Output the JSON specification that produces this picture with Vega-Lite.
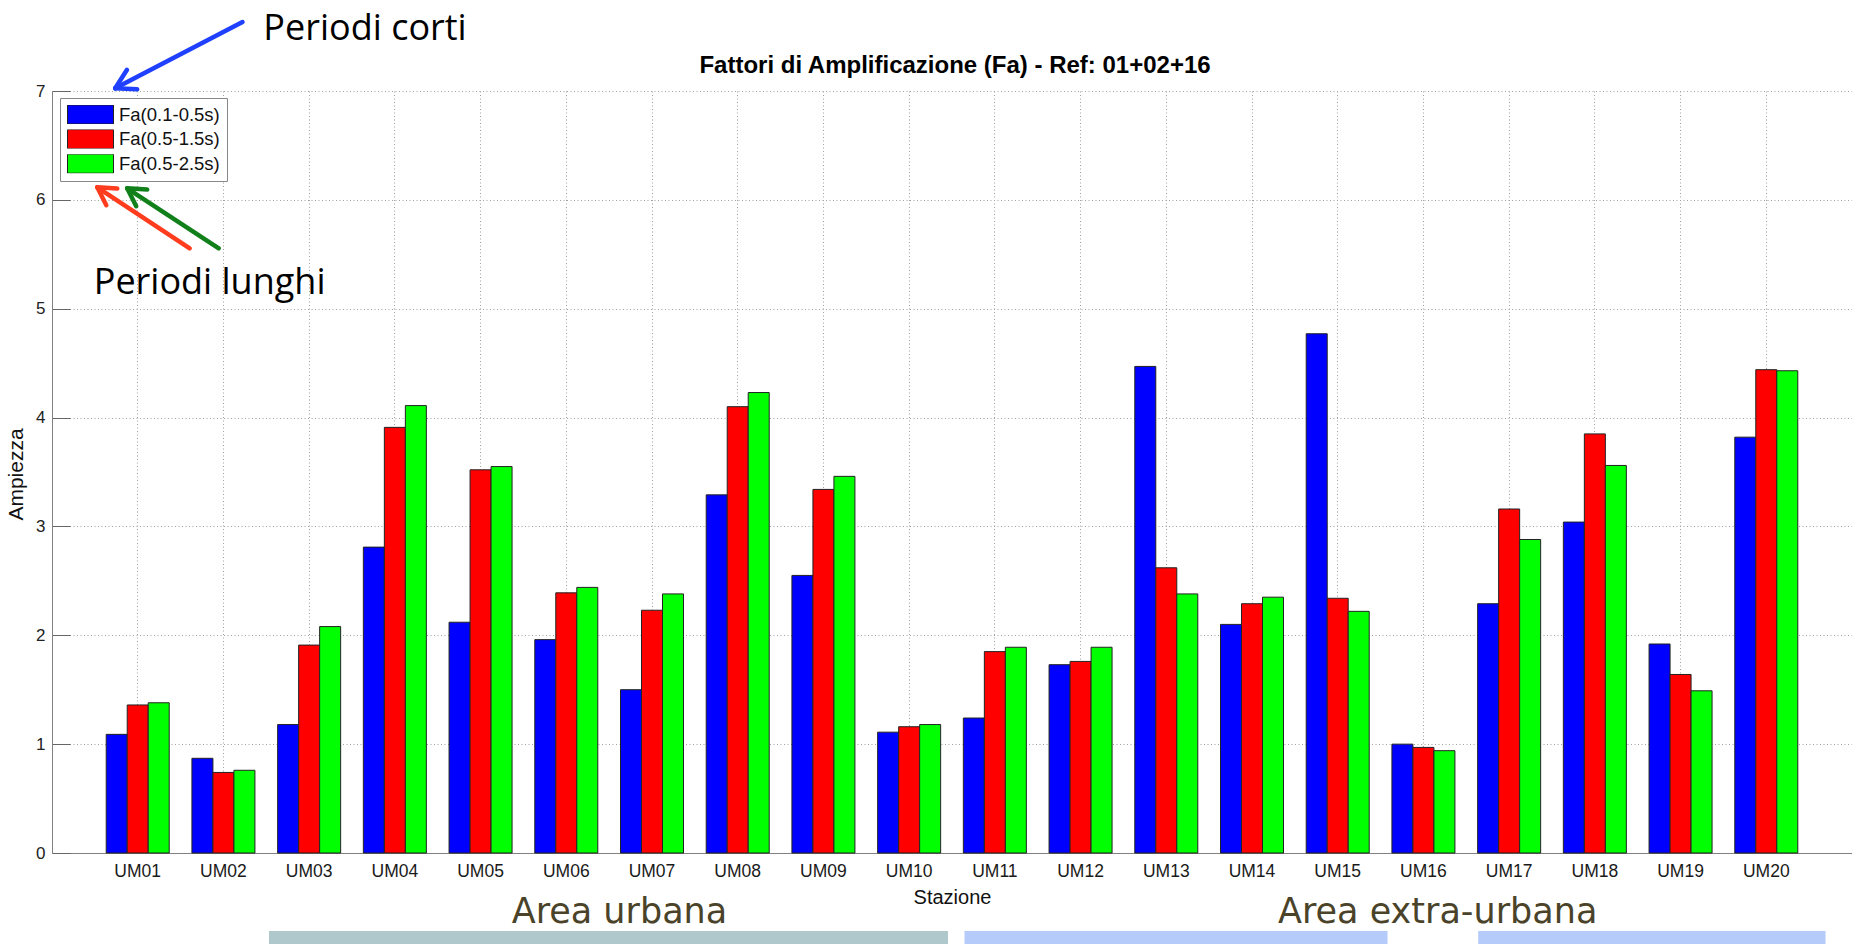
{
  "$schema": "https://vega.github.io/schema/vega-lite/v6.json",
  "width": 1800,
  "height": 762,
  "autosize": {"type": "none"},
  "padding": {"left": 52, "top": 91, "right": 0, "bottom": 91},
  "background": "white",
  "config": {"view": {"stroke": null}, "font": "Liberation Sans"},
  "datasets": {
    "bars": [
      {"station": "UM01", "series": "Fa(0.1-0.5s)", "value": 1.09},
      {"station": "UM01", "series": "Fa(0.5-1.5s)", "value": 1.36},
      {"station": "UM01", "series": "Fa(0.5-2.5s)", "value": 1.38},
      {"station": "UM02", "series": "Fa(0.1-0.5s)", "value": 0.87},
      {"station": "UM02", "series": "Fa(0.5-1.5s)", "value": 0.74},
      {"station": "UM02", "series": "Fa(0.5-2.5s)", "value": 0.76},
      {"station": "UM03", "series": "Fa(0.1-0.5s)", "value": 1.18},
      {"station": "UM03", "series": "Fa(0.5-1.5s)", "value": 1.91},
      {"station": "UM03", "series": "Fa(0.5-2.5s)", "value": 2.08},
      {"station": "UM04", "series": "Fa(0.1-0.5s)", "value": 2.81},
      {"station": "UM04", "series": "Fa(0.5-1.5s)", "value": 3.91},
      {"station": "UM04", "series": "Fa(0.5-2.5s)", "value": 4.11},
      {"station": "UM05", "series": "Fa(0.1-0.5s)", "value": 2.12},
      {"station": "UM05", "series": "Fa(0.5-1.5s)", "value": 3.52},
      {"station": "UM05", "series": "Fa(0.5-2.5s)", "value": 3.55},
      {"station": "UM06", "series": "Fa(0.1-0.5s)", "value": 1.96},
      {"station": "UM06", "series": "Fa(0.5-1.5s)", "value": 2.39},
      {"station": "UM06", "series": "Fa(0.5-2.5s)", "value": 2.44},
      {"station": "UM07", "series": "Fa(0.1-0.5s)", "value": 1.50},
      {"station": "UM07", "series": "Fa(0.5-1.5s)", "value": 2.23},
      {"station": "UM07", "series": "Fa(0.5-2.5s)", "value": 2.38},
      {"station": "UM08", "series": "Fa(0.1-0.5s)", "value": 3.29},
      {"station": "UM08", "series": "Fa(0.5-1.5s)", "value": 4.10},
      {"station": "UM08", "series": "Fa(0.5-2.5s)", "value": 4.23},
      {"station": "UM09", "series": "Fa(0.1-0.5s)", "value": 2.55},
      {"station": "UM09", "series": "Fa(0.5-1.5s)", "value": 3.34},
      {"station": "UM09", "series": "Fa(0.5-2.5s)", "value": 3.46},
      {"station": "UM10", "series": "Fa(0.1-0.5s)", "value": 1.11},
      {"station": "UM10", "series": "Fa(0.5-1.5s)", "value": 1.16},
      {"station": "UM10", "series": "Fa(0.5-2.5s)", "value": 1.18},
      {"station": "UM11", "series": "Fa(0.1-0.5s)", "value": 1.24},
      {"station": "UM11", "series": "Fa(0.5-1.5s)", "value": 1.85},
      {"station": "UM11", "series": "Fa(0.5-2.5s)", "value": 1.89},
      {"station": "UM12", "series": "Fa(0.1-0.5s)", "value": 1.73},
      {"station": "UM12", "series": "Fa(0.5-1.5s)", "value": 1.76},
      {"station": "UM12", "series": "Fa(0.5-2.5s)", "value": 1.89},
      {"station": "UM13", "series": "Fa(0.1-0.5s)", "value": 4.47},
      {"station": "UM13", "series": "Fa(0.5-1.5s)", "value": 2.62},
      {"station": "UM13", "series": "Fa(0.5-2.5s)", "value": 2.38},
      {"station": "UM14", "series": "Fa(0.1-0.5s)", "value": 2.10},
      {"station": "UM14", "series": "Fa(0.5-1.5s)", "value": 2.29},
      {"station": "UM14", "series": "Fa(0.5-2.5s)", "value": 2.35},
      {"station": "UM15", "series": "Fa(0.1-0.5s)", "value": 4.77},
      {"station": "UM15", "series": "Fa(0.5-1.5s)", "value": 2.34},
      {"station": "UM15", "series": "Fa(0.5-2.5s)", "value": 2.22},
      {"station": "UM16", "series": "Fa(0.1-0.5s)", "value": 1.00},
      {"station": "UM16", "series": "Fa(0.5-1.5s)", "value": 0.97},
      {"station": "UM16", "series": "Fa(0.5-2.5s)", "value": 0.94},
      {"station": "UM17", "series": "Fa(0.1-0.5s)", "value": 2.29},
      {"station": "UM17", "series": "Fa(0.5-1.5s)", "value": 3.16},
      {"station": "UM17", "series": "Fa(0.5-2.5s)", "value": 2.88},
      {"station": "UM18", "series": "Fa(0.1-0.5s)", "value": 3.04},
      {"station": "UM18", "series": "Fa(0.5-1.5s)", "value": 3.85},
      {"station": "UM18", "series": "Fa(0.5-2.5s)", "value": 3.56},
      {"station": "UM19", "series": "Fa(0.1-0.5s)", "value": 1.92},
      {"station": "UM19", "series": "Fa(0.5-1.5s)", "value": 1.64},
      {"station": "UM19", "series": "Fa(0.5-2.5s)", "value": 1.49},
      {"station": "UM20", "series": "Fa(0.1-0.5s)", "value": 3.82},
      {"station": "UM20", "series": "Fa(0.5-1.5s)", "value": 4.44},
      {"station": "UM20", "series": "Fa(0.5-2.5s)", "value": 4.43}
    ],
    "zones": [
      {"zone": "urbana", "u": 2.532, "u2": 10.453, "v": -0.7165, "v2": -0.836},
      {"zone": "extra-urbana", "u": 10.646, "u2": 15.581, "v": -0.7165, "v2": -0.836},
      {"zone": "extra-urbana", "u": 16.639, "u2": 20.691, "v": -0.7165, "v2": -0.836}
    ],
    "arrows": [
      {"arrow": "corti", "u": 2.2225, "v": 7.6337, "u2": 0.7373, "v2": 7.0246},
      {"arrow": "corti", "u": 0.7373, "v": 7.0246, "u2": 0.875, "v2": 7.1945},
      {"arrow": "corti", "u": 0.7373, "v": 7.0246, "u2": 0.994, "v2": 7.0155},
      {"arrow": "lunghi-1.5", "u": 1.6065, "v": 5.5549, "u2": 0.5285, "v2": 6.1152},
      {"arrow": "lunghi-1.5", "u": 0.5285, "v": 6.1152, "u2": 0.7618, "v2": 6.1042},
      {"arrow": "lunghi-1.5", "u": 0.5285, "v": 6.1152, "u2": 0.6335, "v2": 5.9508},
      {"arrow": "lunghi-2.5", "u": 1.9454, "v": 5.5549, "u2": 0.8773, "v2": 6.106},
      {"arrow": "lunghi-2.5", "u": 0.8773, "v": 6.106, "u2": 1.1107, "v2": 6.095},
      {"arrow": "lunghi-2.5", "u": 0.8773, "v": 6.106, "u2": 0.9823, "v2": 5.9416}
    ],
    "notes": [
      {"label": "Periodi corti", "u": 2.466, "v": 7.4685},
      {"label": "Periodi lunghi", "u": 0.487, "v": 5.135}
    ],
    "areas": [
      {"label": "Area urbana", "u": 5.363, "v": -0.6458},
      {"label": "Area extra-urbana", "u": 14.303, "v": -0.641}
    ],
    "heading": [
      {"label": "Fattori di Amplificazione (Fa) - Ref: 01+02+16", "u": 10.535, "v": 7.165}
    ]
  },
  "layer": [
    {
      "data": {"name": "bars"},
      "mark": {"type": "bar", "stroke": "#222222", "strokeWidth": 1},
      "encoding": {
        "x": {
          "field": "station",
          "type": "nominal",
          "sort": null,
          "scale": {"paddingInner": 0.265, "paddingOuter": 0.6325},
          "axis": {
            "title": "Stazione",
            "labelAngle": 0,
            "bandPosition": 0.5,
            "grid": true,
            "gridColor": "#a0a0a0",
            "gridDash": [1, 2.5],
            "gridWidth": 1,
            "domainColor": "#808080",
            "domainWidth": 1,
            "tickColor": "#666666",
            "tickSize": -18,
            "labelPadding": 27,
            "labelFont": "Liberation Sans",
            "labelFontSize": 17.5,
            "labelColor": "#1a1a1a",
            "titleFont": "Liberation Sans",
            "titleFontSize": 20,
            "titleFontWeight": "normal",
            "titleColor": "#111111",
            "titlePadding": 8
          }
        },
        "xOffset": {
          "field": "series",
          "type": "nominal",
          "sort": ["Fa(0.1-0.5s)", "Fa(0.5-1.5s)", "Fa(0.5-2.5s)"],
          "scale": {"paddingInner": 0, "paddingOuter": 0}
        },
        "y": {
          "field": "value",
          "type": "quantitative",
          "title": "Ampiezza",
          "scale": {"domain": [0, 7], "nice": false, "zero": true},
          "axis": {
            "title": "Ampiezza",
            "values": [0, 1, 2, 3, 4, 5, 6, 7],
            "format": "d",
            "grid": true,
            "gridColor": "#a0a0a0",
            "gridDash": [1, 2.5],
            "gridWidth": 1,
            "domainColor": "#808080",
            "domainWidth": 1,
            "tickColor": "#666666",
            "tickSize": -18,
            "labelPadding": 25,
            "labelFont": "Liberation Sans",
            "labelFontSize": 17,
            "labelColor": "#222222",
            "titleFont": "Liberation Sans",
            "titleFontSize": 21,
            "titleFontWeight": "normal",
            "titleColor": "#111111",
            "titleAngle": -90,
            "titleBaseline": "alphabetic",
            "titleAlign": "center",
            "titleX": -30,
            "titleY": 383
          }
        },
        "color": {
          "field": "series",
          "type": "nominal",
          "scale": {
            "domain": ["Fa(0.1-0.5s)", "Fa(0.5-1.5s)", "Fa(0.5-2.5s)"],
            "range": ["#0000ff", "#ff0000", "#00ff00"]
          },
          "legend": {
            "title": null,
            "orient": "none",
            "legendX": 8,
            "legendY": 7,
            "fillColor": "#ffffff",
            "strokeColor": "#888888",
            "padding": 7,
            "symbolType": "M-1,-0.413H1V0.413H-1Z",
            "symbolSize": 2116,
            "symbolStrokeColor": "#222222",
            "symbolStrokeWidth": 1,
            "symbolOpacity": 1,
            "clipHeight": 19,
            "rowPadding": 5.6,
            "labelFont": "Liberation Sans",
            "labelFontSize": 18.5,
            "labelColor": "#111111",
            "labelOffset": 5
          }
        }
      }
    },
    {
      "data": {"name": "zones"},
      "mark": {"type": "rect", "clip": false},
      "encoding": {
        "x": {"field": "u", "type": "quantitative", "scale": {"domain": [0, 21], "nice": false, "zero": false}, "axis": null},
        "x2": {"field": "u2"},
        "y": {"field": "v", "type": "quantitative", "title": "Ampiezza", "scale": {"domain": [0, 7], "nice": false, "zero": true}},
        "y2": {"field": "v2"},
        "fill": {
          "field": "zone",
          "type": "nominal",
          "scale": {"domain": ["urbana", "extra-urbana"], "range": ["#afc8cc", "#b5cbf9"]},
          "legend": null
        }
      }
    },
    {
      "data": {"name": "arrows"},
      "mark": {"type": "rule", "strokeWidth": 4.5, "strokeCap": "round", "clip": false},
      "encoding": {
        "x": {"field": "u", "type": "quantitative", "scale": {"domain": [0, 21], "nice": false, "zero": false}, "axis": null},
        "x2": {"field": "u2"},
        "y": {"field": "v", "type": "quantitative", "title": "Ampiezza", "scale": {"domain": [0, 7], "nice": false, "zero": true}},
        "y2": {"field": "v2"},
        "stroke": {
          "field": "arrow",
          "type": "nominal",
          "scale": {"domain": ["corti", "lunghi-1.5", "lunghi-2.5"], "range": ["#1f40ff", "#ff3d1e", "#11801a"]},
          "legend": null
        }
      }
    },
    {
      "data": {"name": "notes"},
      "mark": {"type": "text", "align": "left", "baseline": "alphabetic", "font": "Open Sans", "fontSize": 36, "color": "#000000", "clip": false},
      "encoding": {
        "x": {"field": "u", "type": "quantitative", "scale": {"domain": [0, 21], "nice": false, "zero": false}, "axis": null},
        "y": {"field": "v", "type": "quantitative", "title": "Ampiezza", "scale": {"domain": [0, 7], "nice": false, "zero": true}},
        "text": {"field": "label"}
      }
    },
    {
      "data": {"name": "areas"},
      "mark": {"type": "text", "align": "left", "baseline": "alphabetic", "font": "DejaVu Sans", "fontSize": 35, "color": "#4a4329", "clip": false},
      "encoding": {
        "x": {"field": "u", "type": "quantitative", "scale": {"domain": [0, 21], "nice": false, "zero": false}, "axis": null},
        "y": {"field": "v", "type": "quantitative", "title": "Ampiezza", "scale": {"domain": [0, 7], "nice": false, "zero": true}},
        "text": {"field": "label"}
      }
    },
    {
      "data": {"name": "heading"},
      "mark": {"type": "text", "align": "center", "baseline": "alphabetic", "font": "Liberation Sans", "fontSize": 24, "fontWeight": "bold", "color": "#000000", "clip": false},
      "encoding": {
        "x": {"field": "u", "type": "quantitative", "scale": {"domain": [0, 21], "nice": false, "zero": false}, "axis": null},
        "y": {"field": "v", "type": "quantitative", "title": "Ampiezza", "scale": {"domain": [0, 7], "nice": false, "zero": true}},
        "text": {"field": "label"}
      }
    }
  ],
  "resolve": {"scale": {"x": "independent"}}
}
